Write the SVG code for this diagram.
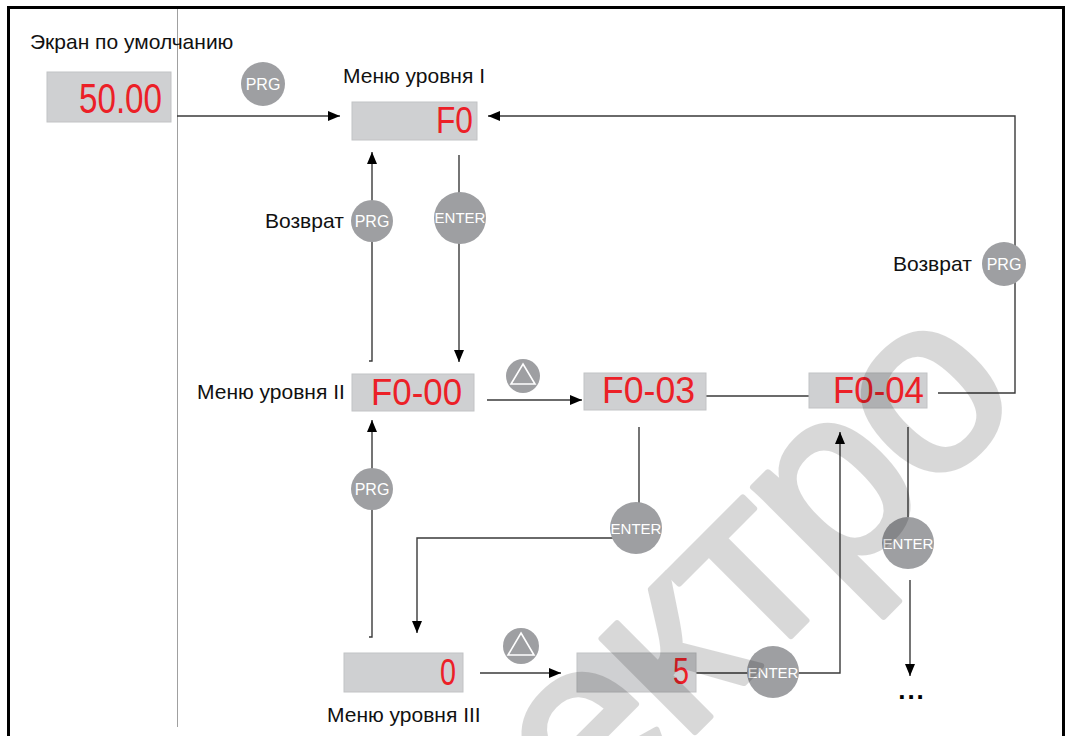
<svg xmlns="http://www.w3.org/2000/svg" width="1067" height="736" viewBox="0 0 1067 736">
<defs>
<marker id="arr" viewBox="0 0 12 10" markerUnits="userSpaceOnUse" markerWidth="12" markerHeight="10" refX="12" refY="5" orient="auto">
<path d="M0,0 L12,5 L0,10 z" fill="#000"/>
</marker>
<style>
.lbl{font-family:"Liberation Sans",Arial,sans-serif;font-size:21px;fill:#111}
.disp{fill:#cfd0d2;stroke:#c2c3c5;stroke-width:1}
.seg{font-family:"Liberation Sans",Arial,sans-serif;fill:#ec2027}
.btn{fill:#9e9fa2}
.btxt{font-family:"Liberation Sans",Arial,sans-serif;fill:#fff;text-anchor:middle}
.con{fill:none;stroke:#3a3a3a;stroke-width:1.4}
.tri{fill:none;stroke:#fff;stroke-width:1.6;stroke-linejoin:miter}
</style>
</defs>
<rect x="0" y="0" width="1067" height="736" fill="#fff"/>
<rect x="8.5" y="7.5" width="1055" height="760" fill="none" stroke="#000" stroke-width="3"/>
<line x1="177.5" y1="9" x2="177.5" y2="727" stroke="#a0a0a0" stroke-width="1"/>

<g id="connectors">
<path class="con" d="M177,116 H340" marker-end="url(#arr)"/>
<path class="con" d="M369,361 H372 V152" marker-end="url(#arr)"/>
<path class="con" d="M459,155 V362" marker-end="url(#arr)"/>
<path class="con" d="M487,400 H582" marker-end="url(#arr)"/>
<path class="con" d="M695,396 H809"/>
<path class="con" d="M938,393 H1015 V116 H488" marker-end="url(#arr)"/>
<path class="con" d="M639,427 V520"/>
<path class="con" d="M630,538 H417 V633" marker-end="url(#arr)"/>
<path class="con" d="M369,637 H372 V420" marker-end="url(#arr)"/>
<path class="con" d="M480,673 H561" marker-end="url(#arr)"/>
<path class="con" d="M689,673 H840 V432" marker-end="url(#arr)"/>
<path class="con" d="M908,427 V517"/>
<path class="con" d="M910,580 V676" marker-end="url(#arr)"/>
</g>

<g id="default-screen">
<text class="lbl" x="30" y="49">Экран по умолчанию</text>
<rect class="disp" x="47" y="72" width="124" height="50"/>
<text class="seg" x="79" y="113" font-size="42" textLength="83" lengthAdjust="spacingAndGlyphs">50.00</text>
</g>

<g id="menu1">
<text class="lbl" x="343" y="83">Меню уровня I</text>
<rect class="disp" x="352" y="102" width="125" height="38"/>
<text class="seg" x="436" y="133" font-size="36" textLength="37" lengthAdjust="spacingAndGlyphs">F0</text>
</g>

<g id="menu2-f000">
<text class="lbl" x="197" y="399">Меню уровня II</text>
<rect class="disp" x="352" y="374" width="122" height="37"/>
<text class="seg" x="371" y="405" font-size="37" textLength="91" lengthAdjust="spacingAndGlyphs">F0-00</text>
</g>

<g id="menu2-f003">
<rect class="disp" x="584" y="373" width="122" height="37"/>
<text class="seg" x="602" y="403" font-size="36" textLength="93" lengthAdjust="spacingAndGlyphs">F0-03</text>
</g>

<g id="menu2-f004">
<rect class="disp" x="809" y="373" width="118" height="35"/>
<text class="seg" x="833" y="403" font-size="36" textLength="91" lengthAdjust="spacingAndGlyphs">F0-04</text>
</g>

<g id="menu3-0">
<rect class="disp" x="344" y="653" width="119" height="39"/>
<text class="seg" x="440" y="685" font-size="36" textLength="16" lengthAdjust="spacingAndGlyphs">0</text>
<text class="lbl" x="327" y="722">Меню уровня III</text>
</g>

<g id="menu3-5">
<rect class="disp" x="577" y="653" width="119" height="39"/>
<text class="seg" x="673" y="684" font-size="36" textLength="16" lengthAdjust="spacingAndGlyphs">5</text>
</g>

<g id="btn-prg-top">
<circle class="btn" cx="263" cy="84" r="22"/>
<text class="btxt" x="263" y="90" font-size="16">PRG</text>
</g>

<g id="btn-prg-return1">
<text class="lbl" x="265" y="228">Возврат</text>
<circle class="btn" cx="372" cy="221" r="21"/>
<text class="btxt" x="372" y="227" font-size="16">PRG</text>
</g>

<g id="btn-enter1">
<circle class="btn" cx="460" cy="218" r="26"/>
<text class="btxt" x="460" y="223" font-size="15">ENTER</text>
</g>

<g id="btn-up1">
<circle class="btn" cx="523" cy="376" r="17"/>
<path class="tri" d="M523,364 L535,384 L511,384 z"/>
</g>

<g id="btn-prg-return2">
<circle class="btn" cx="372" cy="489" r="21"/>
<text class="btxt" x="372" y="495" font-size="16">PRG</text>
</g>

<g id="btn-prg-return3">
<text class="lbl" x="893" y="271">Возврат</text>
<circle class="btn" cx="1004" cy="264" r="22"/>
<text class="btxt" x="1004" y="270" font-size="16">PRG</text>
</g>

<g id="btn-enter2">
<circle class="btn" cx="636" cy="528" r="26"/>
<text class="btxt" x="636" y="534" font-size="15">ENTER</text>
</g>

<g id="btn-enter3">
<circle class="btn" cx="908" cy="543" r="26"/>
<text class="btxt" x="908" y="549" font-size="15">ENTER</text>
</g>

<g id="btn-up2">
<circle class="btn" cx="521" cy="646" r="18"/>
<path class="tri" d="M521,633 L534,655 L508,655 z"/>
</g>

<g id="btn-enter4">
<circle class="btn" cx="773" cy="672" r="26"/>
<text class="btxt" x="773" y="678" font-size="15">ENTER</text>
</g>

<g id="more">
<text x="912" y="699" font-family="Liberation Sans, Arial, sans-serif" font-size="26" font-weight="bold" text-anchor="middle" fill="#000" letter-spacing="2">...</text>
</g>

<g id="watermark" opacity="0.15">
<text x="589" y="838" transform="rotate(-45 589 838)" font-family="Liberation Sans, Arial, sans-serif" font-size="250" letter-spacing="-6" fill="#000" stroke="#000" stroke-width="6" stroke-linejoin="round">ектро</text>
</g>
</svg>
